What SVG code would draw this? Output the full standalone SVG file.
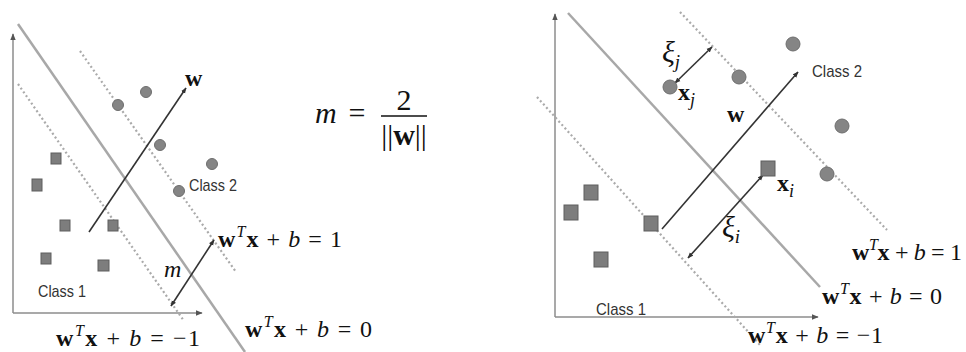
<svg xmlns="http://www.w3.org/2000/svg" width="966" height="352" viewBox="0 0 966 352">
<defs>
<marker id="ah" viewBox="0 0 10 10" refX="9" refY="5" markerWidth="6" markerHeight="6" markerUnits="userSpaceOnUse" orient="auto-start-reverse"><path d="M0,1 L10,5 L0,9 z" fill="#333"/></marker>
<marker id="ahg" viewBox="0 0 10 10" refX="9" refY="5" markerWidth="7" markerHeight="7" markerUnits="userSpaceOnUse" orient="auto"><path d="M0,1 L10,5 L0,9 z" fill="#555"/></marker>
</defs>
<style>
.axis{stroke:#8c8c8c;stroke-width:1.5;fill:none}
.hyp{stroke:#a8a8a8;stroke-width:2.5;fill:none}
.dot{stroke:#aaaaaa;stroke-width:2.2;stroke-dasharray:2 2.6;fill:none}
.arr{stroke:#333;stroke-width:1.6;fill:none}
.sq{fill:#7d7d7d;stroke:#5e5e5e;stroke-width:1}
.ci{fill:#858585;stroke:#6e6e6e;stroke-width:1}
.eq{font-family:"Liberation Serif","DejaVu Serif",serif;font-size:24px;fill:#111}
.bf{font-weight:bold}
.it{font-style:italic}
.sup{font-size:16px;font-style:italic;font-weight:normal}
.cls{font-family:"Liberation Sans","DejaVu Sans",sans-serif;font-size:17px;fill:#333}
.fm{font-family:"Liberation Serif","DejaVu Serif",serif;font-size:30px;fill:#111}
.xi{font-family:"Liberation Serif","DejaVu Serif",serif;font-size:30px;font-style:italic;fill:#111}
</style>
<rect width="966" height="352" fill="#fff"/>

<g id="connectors">
<line class="axis" x1="13" y1="313" x2="13" y2="34" marker-end="url(#ahg)"/>
<line class="axis" x1="13" y1="313" x2="202" y2="313" marker-end="url(#ahg)"/>
<line class="hyp" x1="18" y1="24" x2="245" y2="352"/>
<line class="dot" x1="80" y1="51" x2="236" y2="272"/>
<line class="dot" x1="18" y1="84" x2="184" y2="321"/>
<line class="arr" x1="89" y1="232" x2="186" y2="88" marker-end="url(#ah)"/>
<line class="arr" x1="171" y1="306" x2="214" y2="240" marker-start="url(#ah)" marker-end="url(#ah)"/>
<line class="axis" x1="555" y1="317" x2="555" y2="14" marker-end="url(#ahg)"/>
<line class="axis" x1="555" y1="317" x2="818" y2="317" marker-end="url(#ahg)"/>
<line class="hyp" x1="568" y1="13" x2="820" y2="287"/>
<line class="dot" x1="680" y1="12" x2="887" y2="230"/>
<line class="dot" x1="537" y1="97" x2="760" y2="345"/>
<line class="arr" x1="662" y1="229" x2="798" y2="72" marker-end="url(#ah)"/>
<line class="arr" x1="688" y1="258" x2="763" y2="175" marker-start="url(#ah)" marker-end="url(#ah)"/>
<line class="arr" x1="675" y1="83" x2="712" y2="47" marker-start="url(#ah)" marker-end="url(#ah)"/>
</g>

<g id="left-class2">
<circle class="ci" cx="118" cy="105" r="5.5"/>
<circle class="ci" cx="146" cy="92" r="5.5"/>
<circle class="ci" cx="160" cy="145" r="5.5"/>
<circle class="ci" cx="212" cy="164" r="5.5"/>
<circle class="ci" cx="179" cy="191" r="5.5"/>
<text class="cls" x="189" y="191" textLength="48" lengthAdjust="spacingAndGlyphs">Class 2</text>
</g>
<g id="left-class1">
<rect class="sq" x="51" y="153" width="10" height="11"/>
<rect class="sq" x="32" y="179" width="10" height="12"/>
<rect class="sq" x="60" y="220" width="10" height="11"/>
<rect class="sq" x="108" y="220" width="10" height="11"/>
<rect class="sq" x="41" y="253" width="10" height="11"/>
<rect class="sq" x="98" y="260" width="11" height="11"/>
<text class="cls" x="38" y="297" textLength="48" lengthAdjust="spacingAndGlyphs">Class 1</text>
</g>
<g id="left-labels">
<text class="eq bf" x="185" y="86">w</text>
<text class="eq it" x="164" y="277" fill="#555">m</text>
<text class="eq" x="218" y="247" textLength="124" lengthAdjust="spacing"><tspan class="bf">w</tspan><tspan class="sup" dy="-10">T</tspan><tspan class="bf" dy="10">x</tspan> + <tspan class="it">b</tspan> = 1</text>
<text class="eq" x="245" y="337" textLength="127" lengthAdjust="spacing"><tspan class="bf">w</tspan><tspan class="sup" dy="-10">T</tspan><tspan class="bf" dy="10">x</tspan> + <tspan class="it">b</tspan> = 0</text>
<text class="eq" x="56" y="346" textLength="144" lengthAdjust="spacing"><tspan class="bf">w</tspan><tspan class="sup" dy="-10">T</tspan><tspan class="bf" dy="10">x</tspan> + <tspan class="it">b</tspan> = −1</text>
</g>
<g id="formula">
<text class="fm it" x="315" y="123">m</text>
<text class="fm" x="357" y="123" text-anchor="middle">=</text>
<line x1="381" y1="116" x2="427" y2="116" stroke="#111" stroke-width="1.5"/>
<text class="fm" x="404" y="110" text-anchor="middle">2</text>
<text class="fm" x="404" y="145" text-anchor="middle">||<tspan class="bf">w</tspan>||</text>
</g>

<g id="right-class2">
<circle class="ci" cx="670" cy="87" r="7"/>
<circle class="ci" cx="739" cy="77" r="7"/>
<circle class="ci" cx="793" cy="44" r="7"/>
<circle class="ci" cx="842" cy="126" r="7"/>
<circle class="ci" cx="827" cy="174" r="7"/>
<text class="cls" x="812" y="77" textLength="50" lengthAdjust="spacingAndGlyphs">Class 2</text>
</g>
<g id="right-class1">
<rect class="sq" x="584" y="185" width="14" height="15"/>
<rect class="sq" x="564" y="205" width="14" height="15"/>
<rect class="sq" x="594" y="252" width="14" height="15"/>
<rect class="sq" x="644" y="216" width="14" height="15"/>
<rect class="sq" x="761" y="161" width="14" height="15"/>
<text class="cls" x="596" y="315" textLength="50" lengthAdjust="spacingAndGlyphs">Class 1</text>
</g>
<g id="right-labels">
<text class="xi" x="662" y="62">ξ<tspan font-size="19" dy="6">j</tspan></text>
<text class="eq bf" x="678" y="100" font-size="26">x<tspan font-size="18" font-weight="normal" font-style="italic" dy="6">j</tspan></text>
<text class="eq bf" x="727" y="122" font-size="28">w</text>
<text class="xi" x="722" y="237">ξ<tspan font-size="19" dy="6">i</tspan></text>
<text class="eq bf" x="777" y="191" font-size="26">x<tspan font-size="18" font-weight="normal" font-style="italic" dy="6">i</tspan></text>
<text class="eq" x="852" y="260" textLength="110" lengthAdjust="spacing"><tspan class="bf">w</tspan><tspan class="sup" dy="-10">T</tspan><tspan class="bf" dy="10">x</tspan> + <tspan class="it">b</tspan> = 1</text>
<text class="eq" x="822" y="304" textLength="120" lengthAdjust="spacing"><tspan class="bf">w</tspan><tspan class="sup" dy="-10">T</tspan><tspan class="bf" dy="10">x</tspan> + <tspan class="it">b</tspan> = 0</text>
<text class="eq" x="748" y="343" textLength="135" lengthAdjust="spacing"><tspan class="bf">w</tspan><tspan class="sup" dy="-10">T</tspan><tspan class="bf" dy="10">x</tspan> + <tspan class="it">b</tspan> = −1</text>
</g>
</svg>
